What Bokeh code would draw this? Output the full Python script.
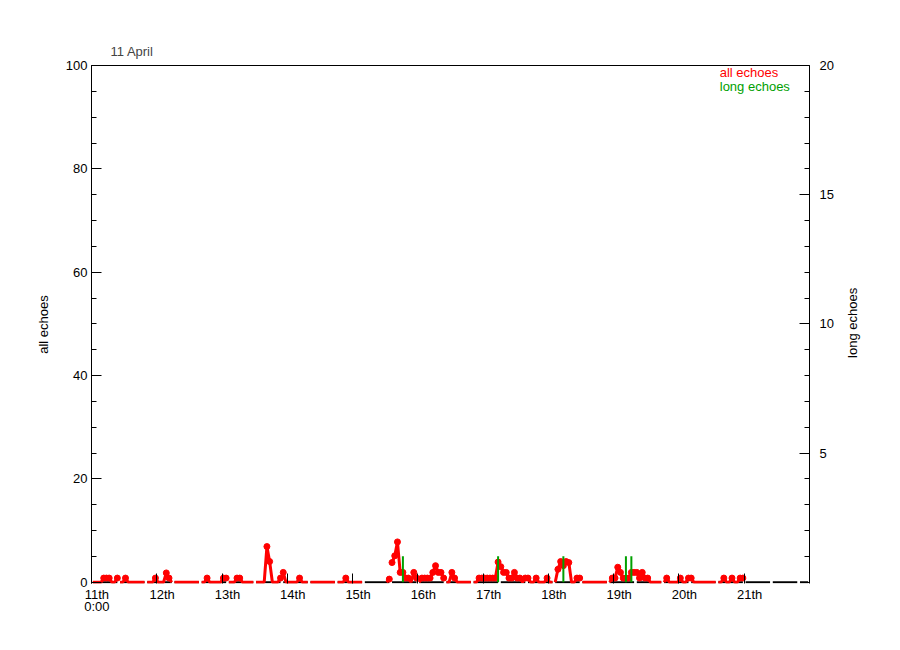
import math
import numpy as np
from bokeh.plotting import figure
from bokeh.layouts import row
from bokeh.models import Range1d, LinearAxis, FixedTicker, Label
from bokeh.core.properties import value
from bokeh.embed import file_html
from bokeh.resources import INLINE

# ---------------- data (hourly bins, hour 0 = 11th 0:00) ----------------
n_hours = 264
day_ticks = [0, 24, 48, 72, 96, 120, 144, 168, 192, 216, 240]
day_labels = ["11th\n0:00", "12th", "13th", "14th", "15th", "16th",
              "17th", "18th", "19th", "20th", "21th"]

# all echoes: hours with non-zero counts and their values (others are 0)
echo_hours = [4, 5, 6, 9, 12, 23,
              27, 28, 42,
              48, 49, 53, 54, 64, 65, 69, 70,
              76, 93,
              109, 110, 111, 112, 113, 114, 115, 116, 118, 119,
              121, 122, 123, 124, 125, 126, 127, 128, 129, 132, 133,
              142, 143, 144, 145, 146, 147, 148, 149, 150, 151, 152, 153, 154,
              155, 156, 157, 159, 160, 163, 167,
              171, 172, 173, 174, 175, 178, 179,
              191, 192, 193, 194, 195, 196, 197, 198, 199, 200, 201, 202, 203, 204,
              211, 216, 219, 220, 232, 235, 238, 239]
echo_values = [0.8, 0.8, 0.8, 0.8, 0.8, 0.8,
               1.8, 0.8, 0.8,
               0.8, 0.8, 0.8, 0.8, 6.9, 4.0, 0.8, 1.9,
               0.8, 0.8,
               0.6, 3.8, 5.1, 7.8, 1.9, 1.9, 0.8, 0.8, 1.9, 0.8,
               0.8, 0.8, 0.8, 0.8, 1.9, 3.2, 1.9, 1.9, 0.8, 1.9, 0.8,
               0.8, 0.8, 0.8, 0.8, 0.8, 0.8, 0.8, 3.9, 3.0, 1.9, 1.9, 0.8, 0.8,
               1.9, 0.8, 0.8, 0.8, 0.8, 0.8, 0.8,
               2.5, 4.0, 3.2, 4.0, 3.8, 0.8, 0.8,
               0.8, 0.8, 2.9, 1.9, 0.8, 0.8, 0.8, 1.9, 1.9, 1.9, 0.8, 1.9, 0.8, 0.8,
               0.8, 0.8, 0.8, 0.8, 0.8, 0.8, 0.8, 0.8]
# hours without "all echoes" data
missing_hours = list(range(100, 108)) + list(range(240, 264))

# long echoes
long_hours = [114, 149, 173, 196, 198]
long_values = [1, 1, 1, 1, 1]

# ---------------- build series ----------------
vals = np.zeros(n_hours)
vals[echo_hours] = echo_values
vals[missing_hours] = np.nan

CHUNK = 10  # data were recorded in 10-hour files, drawn separately
xs, ys = [], []
for h in range(n_hours):
    xs.append(h + 0.5)
    ys.append(vals[h])
    if h % CHUNK == CHUNK - 1:
        xs.append(h + 1.0)
        ys.append(np.nan)

chunk_x0 = [k * CHUNK + 0.5 for k in range((n_hours + CHUNK - 1) // CHUNK)]
chunk_x1 = [min(x0 + CHUNK - 1, n_hours - 0.5) for x0 in chunk_x0]

FONT = "Liberation Sans"
RED = "#ff0000"
GREEN = "#00a000"
H = 640

p = figure(width=839, height=H,
           x_range=Range1d(0, n_hours), y_range=Range1d(-0.25, 100),
           output_backend="svg", toolbar_location=None,
           x_axis_location=None, y_axis_location=None,
           min_border_left=91, min_border_right=30,
           min_border_top=65, min_border_bottom=57)
p.extra_y_ranges = {"long": Range1d(-0.05, 20)}
p.grid.visible = False
p.outline_line_color = None
p.background_fill_color = "white"
p.border_fill_color = "white"


def style(ax, tick_in=10, minor_in=5):
    ax.major_tick_in = tick_in
    ax.major_tick_out = 0
    ax.minor_tick_in = minor_in
    ax.minor_tick_out = 0
    ax.major_tick_line_color = "black"
    ax.minor_tick_line_color = "black"
    ax.axis_line_color = "black"
    ax.major_label_text_font = FONT
    ax.major_label_text_font_size = "13px"
    ax.major_label_text_color = "black"
    ax.axis_label_text_font = FONT
    ax.axis_label_text_font_size = "13px"
    ax.axis_label_text_font_style = "normal"
    ax.axis_label_text_color = "black"


left = LinearAxis(ticker=FixedTicker(ticks=[0, 20, 40, 60, 80, 100],
                                     minor_ticks=list(range(0, 101, 5))),
                  axis_label="all echoes")
style(left)
left.major_label_standoff = 4
left.axis_label_standoff = 12
p.add_layout(left, "left")

right = LinearAxis(y_range_name="long",
                   ticker=FixedTicker(ticks=[5, 10, 15, 20],
                                      minor_ticks=list(range(0, 21))))
style(right)
right.major_label_standoff = 10
p.add_layout(right, "right")

top = LinearAxis(ticker=FixedTicker(ticks=[0], minor_ticks=[]),
                 major_label_overrides={0: ""})
style(top)
top.major_label_text_font_size = "0px"
top.major_label_standoff = 0
p.add_layout(top, "above")

# bottom: tick marks at day boundaries, no axis line
bot_ticks = LinearAxis(ticker=FixedTicker(ticks=day_ticks, minor_ticks=[]),
                       major_label_overrides={t: "" for t in day_ticks})
style(bot_ticks)
bot_ticks.axis_line_color = None
bot_ticks.major_label_text_font_size = "0px"
bot_ticks.major_label_standoff = 0
p.add_layout(bot_ticks, "below")

# bottom: day labels (drawn slightly right of the day tick, as in the original)
lab_pos = [t + 2 for t in day_ticks]
bot_labels = LinearAxis(ticker=FixedTicker(ticks=lab_pos, minor_ticks=[]),
                        major_label_overrides={pos: lab for pos, lab in zip(lab_pos, day_labels)})
style(bot_labels, tick_in=0, minor_in=0)
bot_labels.axis_line_color = None
bot_labels.major_tick_line_color = None
bot_labels.major_label_standoff = 3
try:
    bot_labels.major_label_text_line_height = 0.85
except Exception:
    pass
p.add_layout(bot_labels, "below")

p.title.text = "11 April"
p.title.text_font = FONT
p.title.text_font_size = "13px"
p.title.text_font_style = "normal"
p.title.align = "left"
p.title.offset = 19
p.title.standoff = 14

# baseline of the 10-hour files
p.segment(x0=chunk_x0, y0=0, x1=chunk_x1, y1=0, line_color="black", line_width=2)
# all echoes
p.line(xs, ys, line_color=RED, line_width=3)
nz_x = [h + 0.5 for h in echo_hours]
p.scatter(nz_x, echo_values, size=6, color=RED, marker="circle")
# long echoes
lx = [h + 0.5 for h in long_hours]
p.segment(x0=lx, y0=[0] * len(lx), x1=lx, y1=long_values,
          y_range_name="long", line_color=GREEN, line_width=2)

p.add_layout(Label(x=231, y=98.6, text="all echoes", text_color=RED,
                   text_font=FONT, text_font_size="13px", text_baseline="middle"))
p.add_layout(Label(x=231, y=95.9, text="long echoes", text_color=GREEN,
                   text_font=FONT, text_font_size="13px", text_baseline="middle"))

# narrow strip on the right carrying the right-hand axis title (reads upwards)
p2 = figure(width=30, height=H, x_range=Range1d(0, 30), y_range=Range1d(0, H),
            output_backend="svg", toolbar_location=None,
            x_axis_location=None, y_axis_location=None, min_border=0)
p2.grid.visible = False
p2.outline_line_color = None
p2.text(x=[13], y=[H - 318], text=["long echoes"], angle=math.pi / 2,
        text_font=value(FONT), text_font_size="13px", text_color="black",
        text_align="center", text_baseline="middle")

layout = row(p, p2, spacing=0)
open("out.html", "w").write(file_html(layout, INLINE))
